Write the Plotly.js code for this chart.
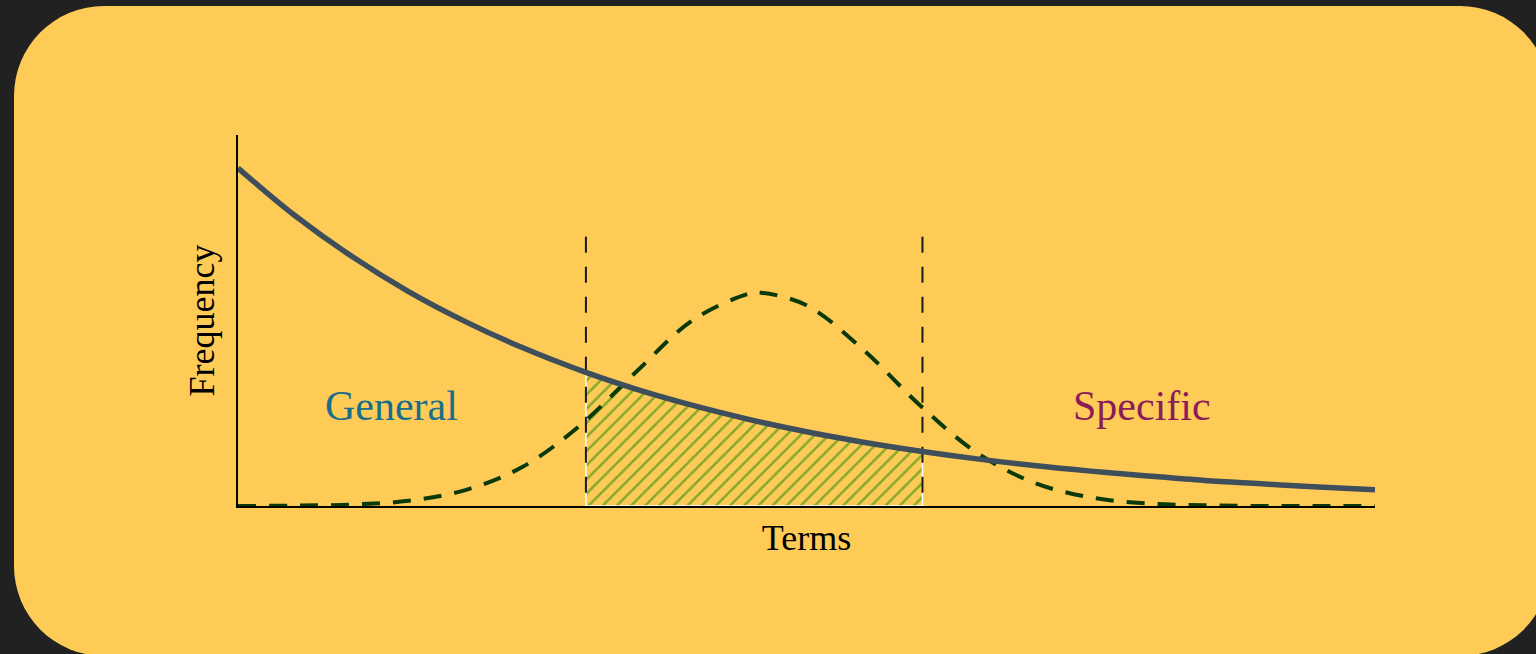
<!DOCTYPE html>
<html><head><meta charset="utf-8">
<script src="https://cdn.plot.ly/plotly-3.0.1.min.js"></script>
<style>
html,body{margin:0;padding:0;background:#212121;width:1536px;height:654px;overflow:hidden;}
#card{position:absolute;left:14px;top:6px;width:1536px;height:650px;border-radius:90px;background:#FECB57;}
#chart{position:absolute;left:0;top:0;width:1536px;height:654px;}
</style></head><body>
<div id="card"></div><div id="chart"></div>
<script>
// Solid curve: general term frequency
const termsX = [0,0.5,1,1.5,2,2.5,3.06,3.5,4,4.5,5,5.5,6.02,6.5,7,7.5,8,8.5,9,9.5,10];
const generalFreq = [0.911,0.783,0.673,0.578,0.497,0.427,0.360,0.315,0.271,0.233,0.200,0.172,0.147,0.127,0.109,0.094,0.081,0.069,0.060,0.051,0.044];
// Dashed curve: mid-range bump
const bumpX = [0,0.5,1,1.5,2,2.5,3,3.5,4,4.5,4.6,5,5.5,6,6.5,7,7.5,8,8.5,9,9.5,10];
const bumpFreq = [0,0.001,0.004,0.014,0.043,0.105,0.215,0.361,0.501,0.573,0.575,0.541,0.421,0.271,0.143,0.063,0.023,0.007,0.002,0,0,0];
// Band boundaries and height of the dashed markers
const bandBounds = [3.06, 6.02];
const bandTop = 0.726;
const regionLabels = ['General', 'Specific'];
const axisTitles = ['Terms', 'Frequency'];

const serif = 'Liberation Serif, Times New Roman, serif';

const bandX = [], bandY = [];
termsX.forEach((x, i) => { if (x >= bandBounds[0] && x <= bandBounds[1]) { bandX.push(x); bandY.push(generalFreq[i]); } });

const traces = [
  { x: bandX, y: bandY, mode: 'lines', fill: 'tozeroy', line: {width: 0, shape: 'spline'},
    fillcolor: 'rgba(0,0,0,0)',
    fillpattern: {shape: '/', fgcolor: '#86a82a', bgcolor: 'rgba(0,0,0,0)', size: 10, solidity: 0.25},
    hoverinfo: 'skip' },
  { x: [bandX[0], bandX[0], bandX[bandX.length-1], bandX[bandX.length-1]],
    y: [bandY[0], 0, 0, bandY[bandY.length-1]],
    mode: 'lines', line: {color: '#ffffff', width: 1.5}, hoverinfo: 'skip' },
  { x: [bandBounds[0], bandBounds[0], null, bandBounds[1], bandBounds[1]],
    y: [bandTop, 0, null, bandTop, 0],
    mode: 'lines', line: {color: '#1a1a1a', width: 2, dash: '16px,14px'}, hoverinfo: 'skip' },
  { x: bumpX, y: bumpFreq, mode: 'lines',
    line: {color: '#0a3a0a', width: 4, dash: '18px,13px', shape: 'spline'}, hoverinfo: 'skip' },
  { x: termsX, y: generalFreq, mode: 'lines',
    line: {color: '#3e4f5b', width: 5.5, shape: 'spline'}, hoverinfo: 'skip' }
];

const axisBase = {
  showline: true, linecolor: '#000', linewidth: 2, showgrid: false, zeroline: false,
  showticklabels: false, ticks: '', layer: 'below traces', fixedrange: true
};

const layout = {
  width: 1536, height: 654,
  margin: {l: 238, r: 161, t: 135, b: 148},
  paper_bgcolor: 'rgba(0,0,0,0)', plot_bgcolor: 'rgba(0,0,0,0)',
  showlegend: false,
  xaxis: Object.assign({}, axisBase, {range: [0, 10],
    title: {text: axisTitles[0], font: {family: serif, size: 36, color: '#000'}, standoff: 18}}),
  yaxis: Object.assign({}, axisBase, {range: [0, 1],
    title: {text: axisTitles[1], font: {family: serif, size: 36, color: '#000'}, standoff: 10}}),
  annotations: [
    {x: 1.35, y: 0.27, xref: 'x', yref: 'y', text: regionLabels[0], showarrow: false,
     font: {family: serif, size: 42, color: '#1b6d8c'}},
    {x: 7.95, y: 0.27, xref: 'x', yref: 'y', text: regionLabels[1], showarrow: false,
     font: {family: serif, size: 42, color: '#8a1c58'}}
  ]
};

Plotly.newPlot('chart', traces, layout, {staticPlot: true, displayModeBar: false});
</script>
</body></html>
